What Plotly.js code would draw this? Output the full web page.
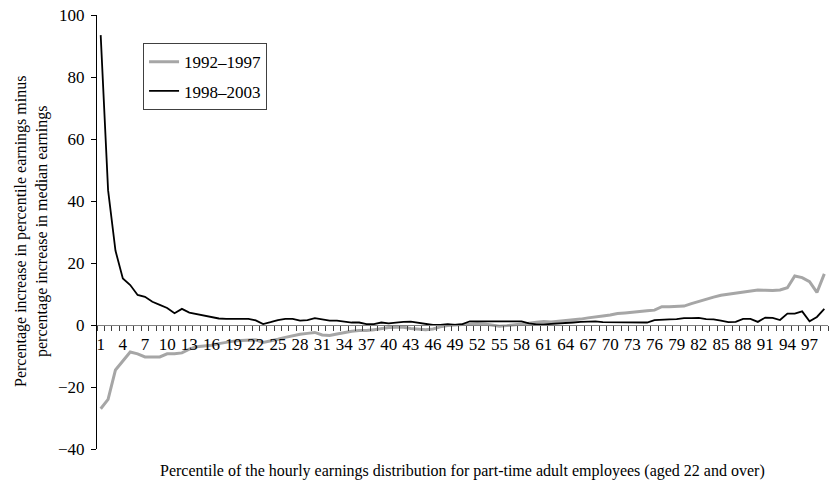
<!DOCTYPE html>
<html>
<head>
<meta charset="utf-8">
<script src="https://cdn.plot.ly/plotly-3.0.1.min.js"></script>
<style>html,body{margin:0;padding:0;background:#fff;}</style>
</head>
<body>
<div id="chart" style="width:829px;height:490px;"></div>
<script>
// Percentiles 1..99
const percentiles = Array.from({length: 99}, (_, i) => i + 1);
const tickLabels = ["1","4","7","10","13","16","19","22","25","28","31","34","37","40","43","46","49","52","55","58","61","64","67","70","73","76","79","82","85","88","91","94","97"];
const tickPositions = tickLabels.map(Number);

const series9297Name = "1992–1997";
const series9297 = [
  -27, -24, -14.5, -11.5, -8.7, -9.3, -10.3, -10.3, -10.3, -9.3,
  -9.3, -9.0, -7.8, -7.0, -6.8, -6.5, -6.0, -5.5, -5.2, -5.0,
  -4.9, -4.8, -5.6, -5.2, -4.6, -4.0, -3.4, -3.0, -2.7, -2.4,
  -3.2, -3.4, -2.9, -2.4, -2.0, -1.8, -1.8, -1.5, -1.1, -0.8,
  -0.75, -0.75, -1.1, -1.3, -1.5, -1.3, -0.6, -0.2, 0.0, 0.1,
  0.3, 0.5, 0.3, 0.0, -0.4, -0.2, 0.0, 0.3, 0.6, 0.9,
  1.1, 1.0, 1.2, 1.5, 1.7, 1.9, 2.3, 2.5, 2.9, 3.2,
  3.7, 3.9, 4.2, 4.4, 4.6, 4.8, 5.9, 5.9, 6.1, 6.1,
  6.9, 7.6, 8.5, 9.0, 9.6, 9.9, 10.3, 10.6, 11.0, 11.3,
  11.2, 11.1, 11.3, 12.0, 15.8, 15.3, 14.0, 10.5, 16.5
];

const series9803Name = "1998–2003";
const series9803 = [
  93.5, 43.5, 24, 15, 12.9, 9.7, 9.1, 7.5, 6.5, 5.5,
  3.8, 5.2, 4.0, 3.5, 3.1, 2.7, 2.1, 2.0, 2.0, 2.0,
  2.0, 1.5, 0.3, 0.9, 1.6, 2.0, 2.0, 1.4, 1.6, 2.2,
  1.7, 1.4, 1.4, 1.1, 0.8, 0.8, 0.3, 0.3, 0.8, 0.5,
  0.8, 1.0, 1.1, 0.8, 0.5, 0.0, 0.0, 0.3, 0.0, 0.3,
  1.2, 1.2, 1.2, 1.0, 1.0, 1.0, 1.0, 1.2, 0.5, 0.2,
  0.2, 0.3, 0.4, 0.5, 0.8, 1.0, 1.0, 1.2, 0.9, 0.9,
  1.0, 0.8, 1.0, 0.8, 0.8, 1.6, 1.6, 1.8, 1.9, 2.2,
  2.2, 2.3, 1.9, 1.8, 1.4, 0.9, 1.0, 2.0, 2.0, 1.0,
  2.4, 2.3, 1.6, 3.7, 3.7, 4.4, 1.2, 2.6, 5.2
];

const yTitle = "Percentage increase in percentile earnings minus<br>percentage increase in median earnings";
const xTitle = "Percentile of the hourly earnings distribution for part-time adult employees (aged 22 and over)";

const FONT = "'Liberation Serif', 'Times New Roman', serif";

const traces = [
  {x: percentiles, y: series9297, name: series9297Name, type: 'scatter', mode: 'lines',
   legendgroup: 'a', line: {color: '#a6a6a6', width: 3}},
  {x: percentiles, y: series9803, name: series9803Name, type: 'scatter', mode: 'lines',
   legendgroup: 'b', line: {color: '#000000', width: 1.8}}
];

const layout = {
  width: 829, height: 490,
  margin: {l: 97, r: 1, t: 15, b: 41},
  paper_bgcolor: '#ffffff', plot_bgcolor: '#ffffff',
  font: {family: FONT, size: 16, color: '#000'},
  showlegend: true,
  legend: {x: 0.063, y: 0.935, xanchor: 'left', yanchor: 'top',
           bordercolor: '#404040', borderwidth: 1, bgcolor: '#fff',
           tracegroupgap: 4,
           font: {family: FONT, size: 17}},
  xaxis: {
    range: [0.5, 99.5], anchor: 'free', position: 40/140,
    tickmode: 'array', tickvals: tickPositions, ticktext: tickLabels,
    ticks: '', showgrid: false, zeroline: false,
    showline: true, linecolor: '#808080', linewidth: 1,
    tickfont: {family: FONT, size: 17},
    ticklabelstandoff: 4,
    minor: {tick0: 0.5, dtick: 1, ticks: 'outside', ticklen: 5, tickcolor: '#404040', showgrid: false}
  },
  yaxis: {
    range: [-40, 100], dtick: 20, tick0: 0,
    ticks: 'outside', ticklen: 5, tickcolor: '#000',
    showline: true, linecolor: '#000', linewidth: 1,
    showgrid: false, zeroline: false,
    ticklabelstandoff: 3,
    tickfont: {family: FONT, size: 17}
  },
  annotations: [
    {text: xTitle, xref: 'paper', yref: 'paper', x: 0.5, y: 0, xanchor: 'center', yanchor: 'middle',
     yshift: -22, showarrow: false, font: {family: FONT, size: 16}},
    {text: yTitle, xref: 'paper', yref: 'paper', x: 0, y: 0.5, xanchor: 'center', yanchor: 'middle',
     xshift: -66, textangle: -90, showarrow: false, font: {family: FONT, size: 16}}
  ]
};

Plotly.newPlot('chart', traces, layout, {displayModeBar: false, staticPlot: true});
</script>
</body>
</html>
